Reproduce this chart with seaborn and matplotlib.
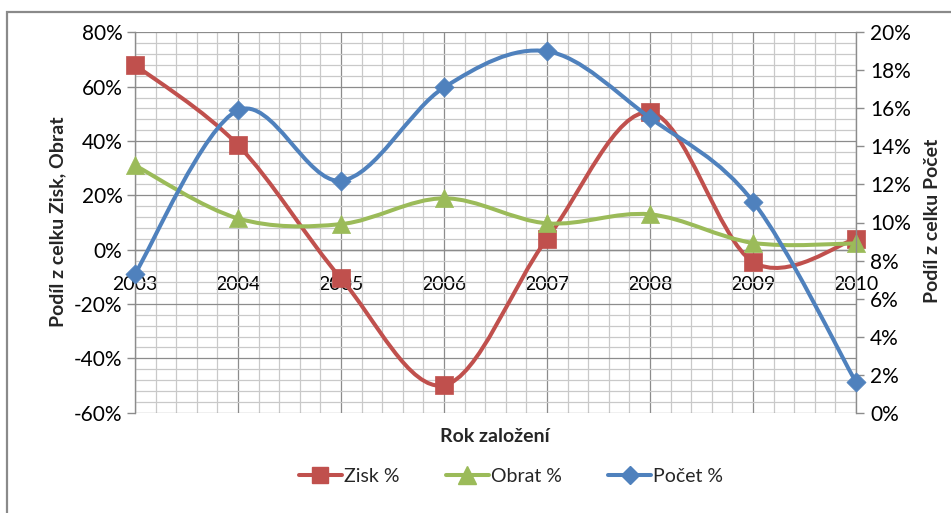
import numpy as np
import pandas as pd
import matplotlib
matplotlib.use("Agg")
import matplotlib.pyplot as plt
import seaborn as sns
from matplotlib.path import Path
from matplotlib.patches import PathPatch, Rectangle
from matplotlib.lines import Line2D
from matplotlib.ticker import MultipleLocator, FuncFormatter

# --- data -------------------------------------------------------------
years = ["2003", "2004", "2005", "2006", "2007", "2008", "2009", "2010"]
zisk = [68.0, 38.5, -10.6, -49.9, 4.0, 50.5, -4.5, 4.0]      # % (left axis)
obrat = [31.0, 11.5, 9.4, 18.9, 9.7, 13.0, 2.5, 2.3]          # % (left axis)
pocet = [7.3, 15.9, 12.2, 17.1, 19.0, 15.5, 11.1, 1.6]        # % (right axis)

RED, GREEN, BLUE = "#C0504D", "#9BBB59", "#4F81BD"
GRID_MAJOR, GRID_MINOR = "#8c8c8c", "#c9c9c9"
YTICK_FS = 15
XTICK_FS = 14
LABEL_FS = 14
LEGEND_FS = 14

sns.set_theme(style="white")
plt.rcParams["font.family"] = ["Lato", "DejaVu Sans"]

fig = plt.figure(figsize=(9.51, 5.13), dpi=100)
W, H = 951, 513
ax = fig.add_axes([135 / W, 1 - 412.7 / H, (856 - 135) / W, (412.7 - 32.3) / H])
ax2 = ax.twinx()
ax.patch.set_visible(False)

xpos = np.arange(len(years))


def smooth_path(x, y):
    """Cubic Bezier path through the points (Catmull-Rom style tangents)."""
    pts = np.column_stack([x, y]).astype(float)
    n = len(pts)
    verts = [pts[0]]
    codes = [Path.MOVETO]
    for i in range(n - 1):
        p0 = pts[i - 1] if i > 0 else pts[i]
        p1, p2 = pts[i], pts[i + 1]
        p3 = pts[i + 2] if i + 2 < n else pts[i + 1]
        c1 = p1 + (p2 - p0) / 6.0
        c2 = p2 - (p3 - p1) / 6.0
        verts += [c1, c2, p2]
        codes += [Path.CURVE4] * 3
    return Path(verts, codes)


def draw_series(axis, values, color, marker, size, z):
    axis.add_patch(PathPatch(smooth_path(xpos, values), facecolor="none",
                             edgecolor=color, lw=2.9, capstyle="round",
                             joinstyle="round", zorder=z, clip_on=False))
    df = pd.DataFrame({"x": xpos, "y": values})
    sns.scatterplot(data=df, x="x", y="y", ax=axis, marker=marker, s=size,
                    color=color, edgecolor=color, linewidth=0.5,
                    zorder=z + 0.5, clip_on=False, legend=False)


draw_series(ax, zisk, RED, "s", 150, 3)
draw_series(ax, obrat, GREEN, "^", 170, 4)
draw_series(ax2, pocet, BLUE, "D", 95, 3)

# --- axes: primary ----------------------------------------------------
ax.set_xlim(0, 7)
ax.set_ylim(-60, 80)
ax.set_xticks(xpos)
ax.set_xticklabels(years)
ax.xaxis.set_minor_locator(MultipleLocator(0.2))
ax.yaxis.set_major_locator(MultipleLocator(20))
ax.yaxis.set_minor_locator(MultipleLocator(4))
ax.yaxis.set_major_formatter(FuncFormatter(lambda v, _: f"{v:.0f}%"))
ax.grid(which="major", color=GRID_MAJOR, lw=0.9)
ax.grid(which="minor", color=GRID_MINOR, lw=0.9)
ax.set_axisbelow(True)

ax.spines["bottom"].set_position(("data", 0))
for side in ("top", "right"):
    ax.spines[side].set_visible(False)
for side in ("bottom", "left"):
    ax.spines[side].set_color(GRID_MAJOR)
    ax.spines[side].set_linewidth(1.0)

ax.tick_params(axis="x", which="both", length=0, pad=19, labelsize=XTICK_FS,
               colors="black")
ax.tick_params(axis="y", which="major", length=6, width=1, direction="out",
               color=GRID_MAJOR, labelsize=YTICK_FS, labelcolor="black", pad=3)
ax.tick_params(axis="y", which="minor", length=0)
ax.set_xlabel("")
ax.set_ylabel("")

# --- axes: secondary --------------------------------------------------
ax2.set_ylim(0, 20)
ax2.yaxis.set_major_locator(MultipleLocator(2))
ax2.yaxis.set_major_formatter(FuncFormatter(lambda v, _: f"{v:.0f}%"))
ax2.grid(False)
for side in ("top", "bottom", "left"):
    ax2.spines[side].set_visible(False)
ax2.spines["right"].set_color(GRID_MAJOR)
ax2.spines["right"].set_linewidth(1.0)
ax2.tick_params(axis="y", which="major", length=6, width=1, direction="out",
                color=GRID_MAJOR, labelsize=YTICK_FS, labelcolor="black", pad=4)
ax2.set_ylabel("")
ax2.set_xlabel("")

# --- titles -----------------------------------------------------------
fig.text(58 / W, 1 - 222 / H, "Podíl z celku Zisk, Obrat", rotation=90,
         ha="center", va="center", fontsize=LABEL_FS, fontweight="bold")
fig.text(932 / W, 1 - 221 / H, "Podíl z celku Počet", rotation=90,
         ha="center", va="center", fontsize=LABEL_FS, fontweight="bold")
fig.text(495 / W, 1 - 437 / H, "Rok založení", ha="center", va="center",
         fontsize=LABEL_FS, fontweight="bold")

# --- legend -----------------------------------------------------------
handles = [
    Line2D([], [], color=RED, lw=2.9, marker="s", markersize=12),
    Line2D([], [], color=GREEN, lw=2.9, marker="^", markersize=13),
    Line2D([], [], color=BLUE, lw=2.9, marker="D", markersize=9),
]
fig.legend(handles, ["Zisk %", "Obrat %", "Počet %"], loc="center",
           bbox_to_anchor=(511 / W, 1 - 476 / H), ncol=3, frameon=False,
           fontsize=LEGEND_FS, handlelength=2.2, handletextpad=0.1,
           columnspacing=2.4)

# --- chart border -----------------------------------------------------
fig.patches.append(Rectangle((7.3 / W, -0.1), 1.2, 1.1 - 12.3 / H,
                             transform=fig.transFigure, fill=False,
                             edgecolor="#8a8a8a", lw=1.6))

fig.savefig("out.png", dpi=100, facecolor="white")
